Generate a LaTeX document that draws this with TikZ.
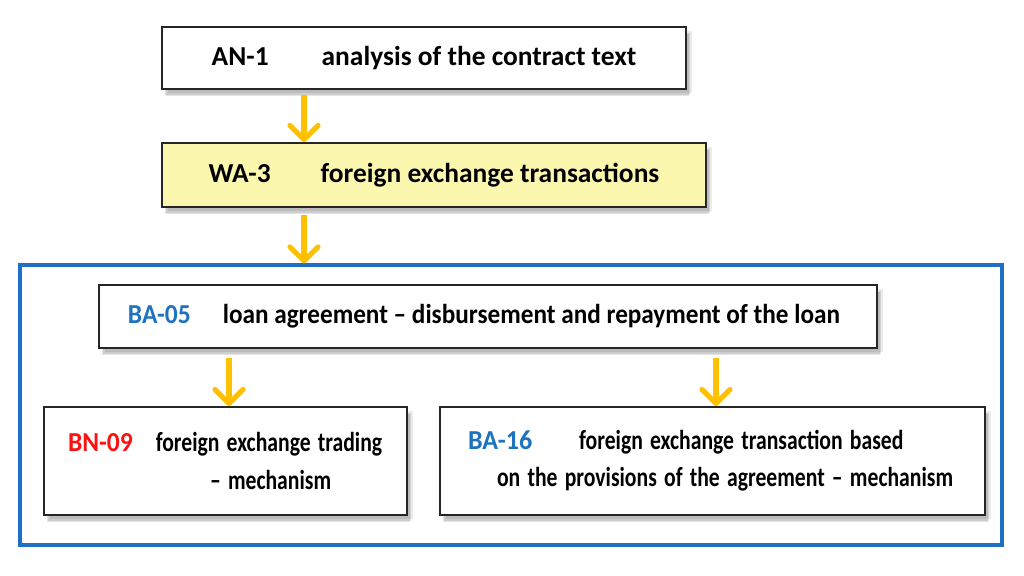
\documentclass[tikz,border=0pt]{standalone}
\usepackage{fontspec}
\usepackage{graphicx}
\setmainfont{Carlito}
\usetikzlibrary{arrows.meta,shadows}
\newdimen\px \px=0.025cm
\newcommand\nar[2][0.79]{\scalebox{#1}[1]{#2}}
\definecolor{arrowgold}{HTML}{FFC000}
\definecolor{paleyellow}{HTML}{FBF7AE}
\definecolor{frameblue}{HTML}{1F6FC5}
\definecolor{codeblue}{HTML}{1E73BE}
\definecolor{codered}{HTML}{FF1010}
\tikzset{
  box/.style={draw=black!85, line width=1.4pt, fill=white, inner sep=0pt,
    drop shadow={shadow xshift=2pt, shadow yshift=-5pt, opacity=.10, fill=black},
    drop shadow={shadow xshift=3pt, shadow yshift=-4pt, opacity=.10, fill=black},
    drop shadow={shadow xshift=4pt, shadow yshift=-3pt, opacity=.08, fill=black}},
  twoline/.style={box, minimum height=108\px, inner xsep=12\px, align=left,
    font=\bfseries\fontsize{19.5}{26.5}\selectfont},
  flow/.style={draw=arrowgold, line width=3.6pt,
    -{Straight Barb[length=10pt, width=20pt, round]}},
  frame/.style={draw=frameblue, line width=2.2pt, inner sep=0pt},
}
\begin{document}
\begin{tikzpicture}[x=\px, y=-\px, font=\bfseries\fontsize{19.5}{24}\selectfont]
			%%%%% START %%%%%
			\useasboundingbox[fill=white] (0, 0) rectangle (1024, 576);
			
			\node[frame, minimum width=982\px, minimum height=280\px] (grp) at (511, 405) {};
			
			\node[box, minimum width=524\px, minimum height=62\px] (an) at (424, 58)
				{AN-1\hspace{53\px}analysis of the contract text};
			\node[box, fill=paleyellow, minimum width=544\px, minimum height=64\px] (wa) at (434, 175)
				{WA-3\hspace{50\px}foreign exchange transactions};
			\node[box, minimum width=778\px, minimum height=63\px] (ba05) at (488, 316.5)
				{\textcolor{codeblue}{\nar[0.93]{BA-05}}\hspace{32\px}\nar[0.92]{loan agreement – disbursement and repayment of the loan}\hspace*{8\px}};
			
			\node[twoline, text width=339\px] (bn09) at (225.5, 461)
				{\hspace*{12\px}\textcolor{codered}{\nar[0.93]{BN-09}}\hspace{23\px}\nar{foreign exchange trading}\\
				\hspace*{154\px}\nar{– mechanism}};
			\node[twoline, text width=521\px] (ba16) at (712.5, 461)
				{\hspace*{16\px}\textcolor{codeblue}{\nar[0.95]{BA-16}}\hspace{47\px}\nar{foreign exchange transaction based}\\
				\hspace*{45\px}\nar{on the provisions of the agreement – mechanism}};
			
			\coordinate (c1) at (304, 0);
			\coordinate (c2) at (229, 0);
			\coordinate (c3) at (716, 0);
			\draw[flow, shorten <=5\px] (an.south -| c1) -- (wa.north -| c1);
			\draw[flow, shorten <=7\px] (wa.south -| c1) -- (grp.north -| c1);
			\draw[flow, shorten <=9\px] (ba05.south -| c2) -- (bn09.north -| c2);
			\draw[flow, shorten <=9\px] (ba05.south -| c3) -- (ba16.north -| c3);
			%%%%% END %%%%%
\end{tikzpicture}
\end{document}
